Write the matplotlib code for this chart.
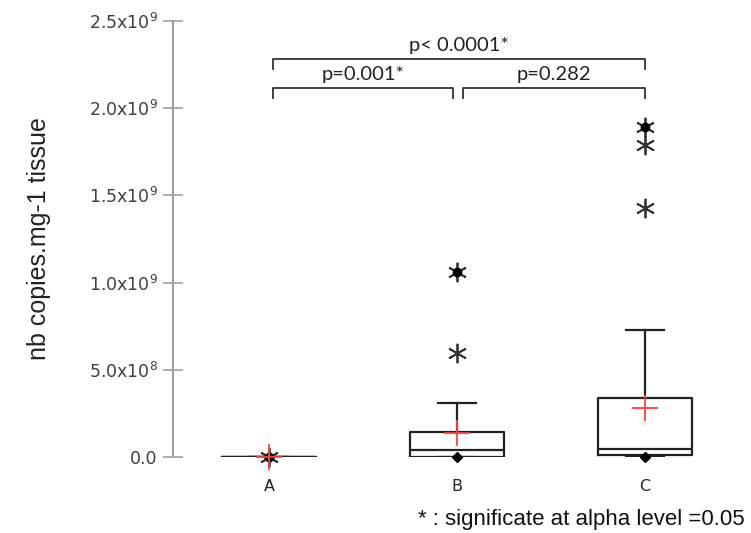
import matplotlib
matplotlib.use("Agg")
import matplotlib.pyplot as plt

# groups and box statistics
groups = ["A", "B", "C"]
q1 = [0.0, 0.0, 0.01e9]
med = [0.0, 0.04e9, 0.045e9]
q3 = [0.0, 0.143e9, 0.338e9]
whislo = [0.0, 0.0, 0.0]
whishi = [0.0, 0.31e9, 0.73e9]
means = [0.0, 0.137e9, 0.28e9]
mins = [0.0, 0.0, 0.0]
maxs = [0.0, 1.06e9, 1.89e9]
fliers = [[0.0], [0.595e9, 1.06e9], [1.43e9, 1.79e9, 1.89e9]]

yticks = [0, 0.5e9, 1.0e9, 1.5e9, 2.0e9, 2.5e9]
ytick_labels = ["0.0", "5.0x10$^{8}$", "1.0x10$^{9}$", "1.5x10$^{9}$",
                "2.0x10$^{9}$", "2.5x10$^{9}$"]

# pairwise comparisons: (group i, group j, label, bracket height)
pairs = [(0, 1, "p=0.001*", 2.116e9), (1, 2, "p=0.282", 2.116e9),
         (0, 2, "p< 0.0001*", 2.282e9)]

fig = plt.figure(figsize=(7.51, 5.33), dpi=100)
ax = fig.add_axes([173/751, 76/533, 547/751, 436/533])

pos = [1, 2, 3]
stats = []
for i in range(3):
    stats.append(dict(q1=q1[i], med=med[i], q3=q3[i], whislo=whislo[i],
                      whishi=whishi[i], fliers=[], label=groups[i]))
ax.bxp(stats, positions=pos, widths=0.5, showfliers=False,
       boxprops=dict(color="#222222", lw=1.6),
       medianprops=dict(color="#222222", lw=1.6),
       whiskerprops=dict(color="#222222", lw=1.6),
       capprops=dict(color="#222222", lw=1.6), capwidths=0.2,
       manage_ticks=False)

for i, p in enumerate(pos):
    ax.plot([p]*len(fliers[i]), fliers[i], ls="none", marker=(6, 2, 0),
            ms=14, mec="#333333", mew=1.3, clip_on=False, zorder=4)
    ax.plot(p, maxs[i], "o", ms=6, color="black", clip_on=False, zorder=5)
    ax.plot(p, mins[i], "D", ms=5, color="black", clip_on=False, zorder=5)
    ax.plot(p, means[i], "+", ms=19, mew=1.3, color="#ff4040",
            clip_on=False, zorder=6)

# significance brackets
for i, j, lab, y in pairs:
    x0 = pos[i] + (0.03 if i == 1 else 0.02)
    x1 = pos[j] - (0.02 if j == 1 else 0.0)
    ax.plot([x0, x0, x1, x1], [y - 0.055e9, y, y, y - 0.055e9],
            color="#333333", lw=1.3, clip_on=False)
    ax.text((x0 + x1) / 2, y + 0.03e9, lab, ha="center", va="bottom",
            fontsize=14.5, family="Lato", color="#222222")

ax.set_xlim(0.489, 3.399)
ax.set_ylim(0, 2.5e9)
ax.set_yticks(yticks)
ax.set_yticklabels(ytick_labels, fontsize=12.5, color="#404040")
ax.set_xticks(pos)
ax.set_xticklabels(groups, fontsize=11.5, color="#222222")
ax.tick_params(axis="x", length=0, pad=16)
ax.tick_params(axis="y", direction="inout", length=14, width=1.2,
               color="#a0a0a0", pad=4)
for s in ["top", "right", "bottom"]:
    ax.spines[s].set_visible(False)
ax.spines["left"].set_color("#a0a0a0")
ax.spines["left"].set_linewidth(1.5)

ax.set_ylabel("nb copies.mg-1 tissue", fontsize=18, family="Liberation Sans",
              color="#222222")
ax.yaxis.set_label_coords(-(173 - 51) / 547, 0.5)

fig.text(745/751, 14/533, "* : significate at alpha level =0.05", ha="right",
         va="center", fontsize=16, family="Liberation Sans", color="#111111")

fig.savefig("out.png", dpi=100)
